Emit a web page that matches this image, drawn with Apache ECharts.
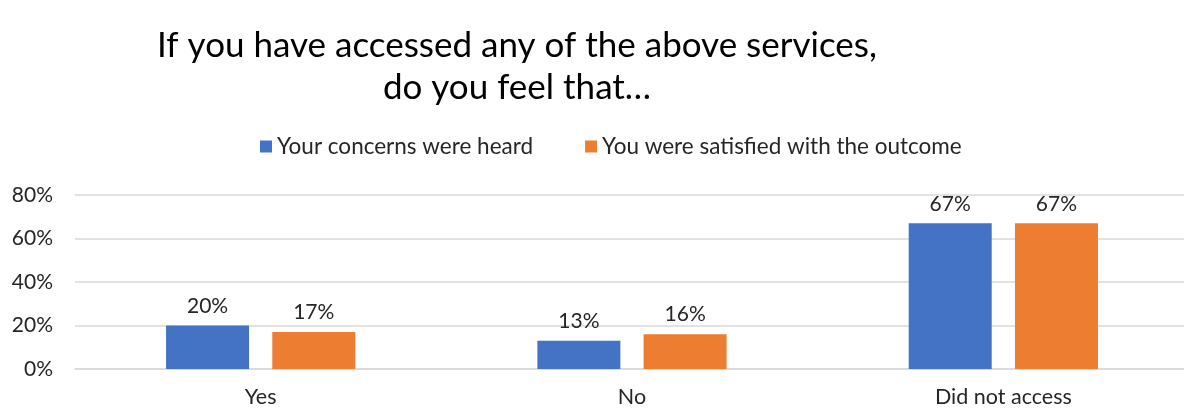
<!DOCTYPE html>
<html>
<head>
<meta charset="utf-8">
<script src="https://cdn.jsdelivr.net/npm/echarts@6/dist/echarts.min.js"></script>
<style>
  html, body { margin: 0; padding: 0; background: #fff; overflow: hidden; }
  #chart { width: 1200px; height: 409px; }
</style>
</head>
<body>
<div id="chart"></div>
<script>
// 数据
var categories = ['Yes', 'No', 'Did not access'];
var heardValues = [20, 13, 67];
var satisfiedValues = [17, 16, 67];
var seriesNames = ['Your concerns were heard', 'You were satisfied with the outcome'];

var font = 'Lato, Calibri, sans-serif';
var textColor = '#262626';

var myChart = echarts.init(document.getElementById('chart'));
var labelOpt = {
  show: true,
  position: 'top',
  distance: 9,
  color: textColor,
  fontFamily: font,
  fontSize: 21,
  formatter: '{c}%'
};
var option = {
  animation: false,
  title: {
    text: 'If you have accessed any of the above services,\ndo you feel that…',
    left: 512,
    top: 20,
    textAlign: 'center',
    textStyle: {
      fontFamily: font,
      fontSize: 35,
      fontWeight: 'normal',
      color: '#000',
      lineHeight: 42
    }
  },
  legend: {
    data: seriesNames,
    top: 130,
    left: 255,
    itemWidth: 12,
    itemHeight: 12,
    itemGap: 52,
    icon: 'rect',
    textStyle: { fontFamily: font, fontSize: 22.5, color: textColor }
  },
  grid: { left: 75, top: 195, width: 1114, height: 174 },
  xAxis: {
    type: 'category',
    data: categories,
    axisLine: { lineStyle: { color: '#d9d9d9', width: 1.5 } },
    axisTick: { show: false },
    axisLabel: { color: textColor, fontFamily: font, fontSize: 21.5, margin: 17 }
  },
  yAxis: {
    type: 'value',
    min: 0,
    max: 80,
    interval: 20,
    axisLabel: { formatter: '{value}%', color: textColor, fontFamily: font, fontSize: 21, margin: 22 },
    splitLine: { lineStyle: { color: '#d9d9d9', width: 1.5 } }
  },
  series: [
    {
      name: seriesNames[0],
      type: 'bar',
      data: heardValues,
      barWidth: 83,
      barGap: '28%',
      itemStyle: { color: '#4472c4' },
      label: labelOpt
    },
    {
      name: seriesNames[1],
      type: 'bar',
      data: satisfiedValues,
      barWidth: 83,
      barGap: '28%',
      itemStyle: { color: '#ed7d31' },
      label: labelOpt
    }
  ]
};
myChart.setOption(option);
</script>
</body>
</html>
